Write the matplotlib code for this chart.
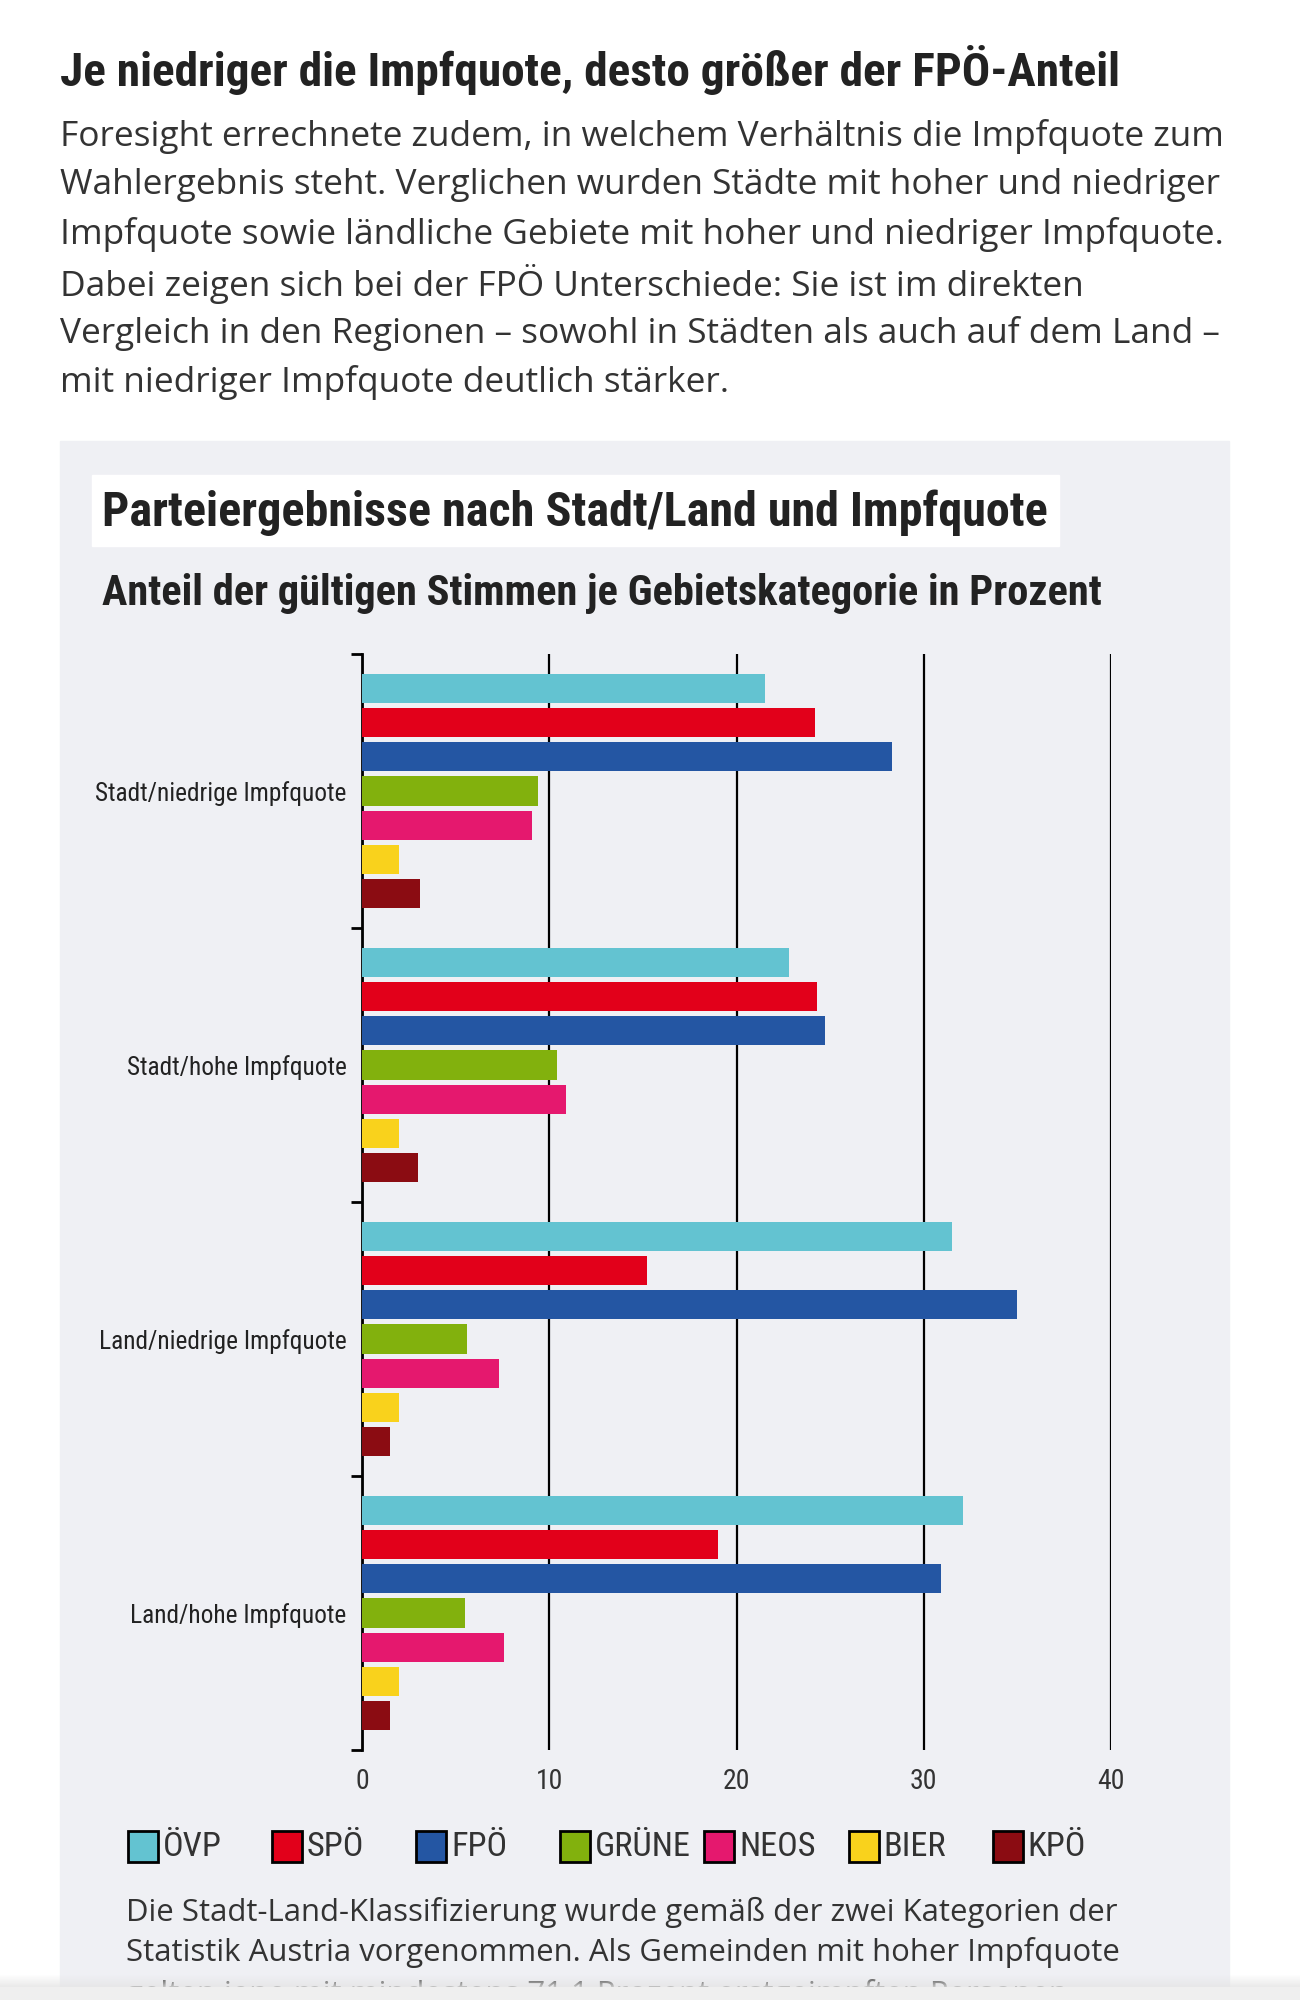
import numpy as np
import matplotlib
matplotlib.use("Agg")
import matplotlib.pyplot as plt
from matplotlib import font_manager
from matplotlib.patches import Rectangle

# Daten (Prozent)
gebiete = ["Stadt/niedrige Impfquote", "Stadt/hohe Impfquote",
           "Land/niedrige Impfquote", "Land/hohe Impfquote"]
parteien = ["ÖVP", "SPÖ", "FPÖ", "GRÜNE", "NEOS", "BIER", "KPÖ"]
oevp = [21.5, 22.8, 31.5, 32.1]
spoe = [24.2, 24.3, 15.2, 19.0]
fpoe = [28.3, 24.7, 35.0, 30.9]
gruene = [9.4, 10.4, 5.6, 5.5]
neos = [9.1, 10.9, 7.3, 7.6]
bier = [2.0, 2.0, 2.0, 2.0]
kpoe = [3.1, 3.0, 1.5, 1.5]
x_ticks = [0, 10, 20, 30, 40]

farben = ["#63c3d1", "#e2001a", "#2456a3", "#82b10d", "#e5186e", "#f9d21c", "#8b0c12"]

ueberschrift = "Je niedriger die Impfquote, desto größer der FPÖ-Anteil"
absatz = [
    "Foresight errechnete zudem, in welchem Verhältnis die Impfquote zum",
    "Wahlergebnis steht. Verglichen wurden Städte mit hoher und niedriger",
    "Impfquote sowie ländliche Gebiete mit hoher und niedriger Impfquote.",
    "Dabei zeigen sich bei der FPÖ Unterschiede: Sie ist im direkten",
    "Vergleich in den Regionen – sowohl in Städten als auch auf dem Land –",
    "mit niedriger Impfquote deutlich stärker.",
]
titel = "Parteiergebnisse nach Stadt/Land und Impfquote"
untertitel = "Anteil der gültigen Stimmen je Gebietskategorie in Prozent"
fussnote = [
    "Die Stadt-Land-Klassifizierung wurde gemäß der zwei Kategorien der",
    "Statistik Austria vorgenommen. Als Gemeinden mit hoher Impfquote",
    "gelten jene mit mindestens 71,1 Prozent erstgeimpften Personen",
]

# Schriften
verfuegbar = {f.name for f in font_manager.fontManager.ttflist}


def erste(*namen):
    for n in namen:
        if n in verfuegbar:
            return n
    return "DejaVu Sans"


SCHMAL = erste("Roboto Condensed", "Liberation Sans Narrow", "DejaVu Sans")
NORMAL = erste("Open Sans", "Noto Sans", "DejaVu Sans")

W, H = 1300, 2000


def fx(x):
    return x / W


def fy(y):
    return 1 - y / H


fig = plt.figure(figsize=(W / 100, H / 100), dpi=100)
fig.patch.set_facecolor("white")

# grauer Kasten und weißer Titelhintergrund (hinter den Achsen)
fig.patches.append(Rectangle((fx(60), 0), fx(1229) - fx(60), fy(441),
                             transform=fig.transFigure, color="#eff0f4", zorder=-2))
fig.patches.append(Rectangle((fx(92), fy(546)), fx(1059) - fx(92), fy(475) - fy(546),
                             transform=fig.transFigure, color="white", zorder=-1))

texte = []  # (Textobjekt, Zielbreite)
t = fig.text(fx(60), fy(70), ueberschrift, family=SCHMAL, weight="bold",
             fontsize=30, color="#222222", va="center")
texte.append((t, 1063))

absatz_obj = []
for i, zeile in enumerate(absatz):
    t = fig.text(fx(60), fy(136 + i * 49.3), zeile, family=NORMAL, fontsize=22,
                 color="#333333", va="center")
    absatz_obj.append(t)

t = fig.text(fx(102), fy(513), titel, family=SCHMAL, weight="bold",
             fontsize=26, color="#222222", va="center")
texte.append((t, 947))
t = fig.text(fx(102), fy(593), untertitel, family=SCHMAL, weight="bold",
             fontsize=24, color="#222222", va="center")
texte.append((t, 1003))

fuss_obj = []
for i, zeile in enumerate(fussnote):
    t = fig.text(fx(126), fy(1912 + i * 41), zeile, family=NORMAL, fontsize=20,
                 color="#333333", va="center")
    fuss_obj.append(t)

# Diagramm
ax = fig.add_axes([fx(362), fy(1750), fx(1111) - fx(362), fy(654) - fy(1750)])
ax.set_facecolor("none")
serien = [oevp, spoe, fpoe, gruene, neos, bier, kpoe]
pos = np.arange(len(gebiete))
for i, (werte, farbe) in enumerate(zip(serien, farben)):
    ax.barh(pos + (i + 1) / 8, werte, height=0.86 / 8, color=farbe, zorder=3)

ax.set_xlim(0, 40)
ax.set_ylim(len(gebiete), 0)
ax.grid(axis="x", color="black", linewidth=1.6, zorder=0)
ax.tick_params(axis="x", length=0, pad=13, labelsize=20, labelcolor="#333333")
ax.set_xticks(x_ticks)
ax.set_xticklabels([str(v) for v in x_ticks])
for t in ax.get_xticklabels():
    t.set_family(SCHMAL)

ax.tick_params(axis="y", which="major", length=8, width=2, color="black")
ax.tick_params(axis="y", which="minor", length=0, pad=11, labelsize=16,
               labelcolor="#222222")
ax.set_yticks(np.arange(len(gebiete) + 1))
ax.set_yticklabels([])
ax.set_yticks(pos + 0.5, minor=True)
ax.set_yticklabels(gebiete, minor=True)
for t in ax.get_yticklabels(minor=True):
    t.set_family(SCHMAL)
for s in ["top", "right", "bottom"]:
    ax.spines[s].set_visible(False)
ax.spines["left"].set_linewidth(2)
ax.spines["left"].set_color("black")

# Legende
leg_obj = []
for i, (name, farbe) in enumerate(zip(parteien, farben)):
    x0 = 128 + i * 144.1
    fig.patches.append(Rectangle((fx(x0), fy(1862)), fx(30), 31 / H,
                                 transform=fig.transFigure, facecolor=farbe,
                                 edgecolor="black", linewidth=2, zorder=2))
    t = fig.text(fx(x0 + 35), fy(1847), name, family=SCHMAL, fontsize=22,
                 color="#333333", va="center")
    leg_obj.append(t)

# Schriftgrößen an Breiten anpassen
fig.canvas.draw()
r = fig.canvas.get_renderer()


def faktor(text, breite):
    return breite / text.get_window_extent(r).width


for t, breite in texte:
    t.set_fontsize(t.get_fontsize() * faktor(t, breite))
f = faktor(absatz_obj[1], 1162)
for t in absatz_obj:
    t.set_fontsize(t.get_fontsize() * f)
f = faktor(fuss_obj[0], 990)
for t in fuss_obj:
    t.set_fontsize(t.get_fontsize() * f)
f = faktor(leg_obj[3], 96)
for t in leg_obj:
    t.set_fontsize(t.get_fontsize() * f)
lab = ax.get_yticklabels(minor=True)
f = faktor(lab[0], 252)
ax.tick_params(axis="y", which="minor", labelsize=16 * f)

# Verlauf am unteren Rand (verdeckt die letzte Zeile teilweise)
verlauf = fig.add_axes([0, 0, 1, 26 / H])
verlauf.set_zorder(10)
n = 26
grad = np.zeros((n, 2, 4))
grad[..., :3] = np.where(np.arange(n) < 13, 0.94, 0.90)[:, None, None]
alpha = np.ones(n)
alpha[13:] = np.linspace(0.8, 0.0, n - 13)
grad[..., 3] = alpha[:, None]
verlauf.imshow(grad, aspect="auto", extent=[0, 1, 0, 1], origin="lower")
verlauf.axis("off")

fig.savefig("out.png", dpi=100)
